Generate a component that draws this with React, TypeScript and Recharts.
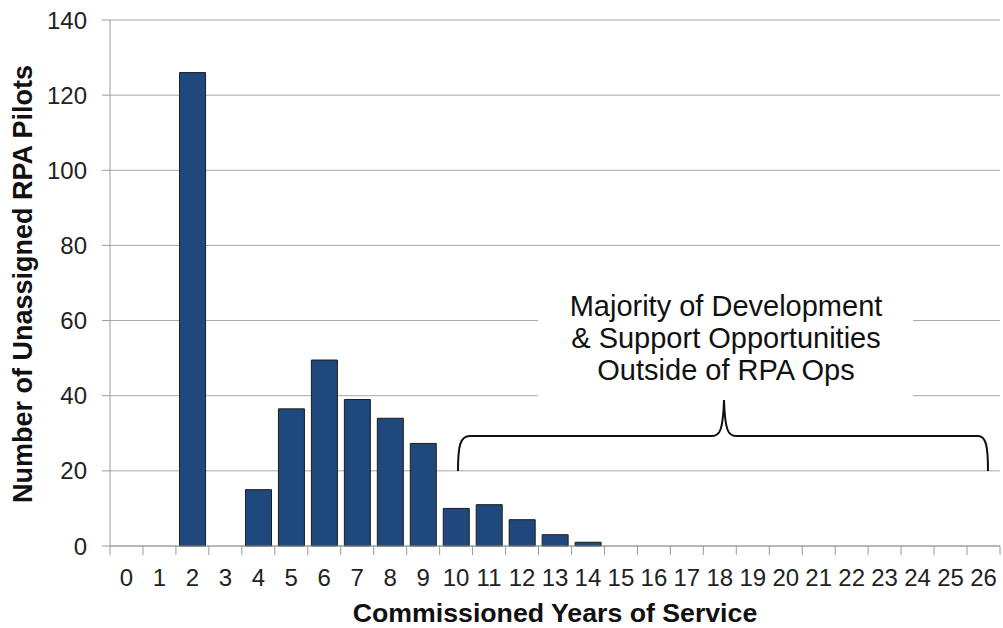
import React from 'react';
import { BarChart, Bar, XAxis, YAxis, CartesianGrid } from 'recharts';

const categories: string[] = ['0','1','2','3','4','5','6','7','8','9','10','11','12','13','14','15','16','17','18','19','20','21','22','23','24','25','26'];
const pilots: number[] = [0, 0, 126, 0, 15, 36.5, 49.5, 39, 34, 27.3, 10, 11, 7, 3, 1, 0, 0, 0, 0, 0, 0, 0, 0, 0, 0, 0, 0];
const yTicks: number[] = [0, 20, 40, 60, 80, 100, 120, 140];
const annotationLines: string[] = ['Majority of Development', '& Support Opportunities', 'Outside of RPA Ops'];
const xTitle = 'Commissioned Years of Service';
const yTitle = 'Number of Unassigned RPA Pilots';

const data = categories.map((c, i) => ({ year: c, pilots: pilots[i] }));

const W = 1003;
const H = 628;
const LEFT = 110;
const RIGHT_M = 3;
const TOP = 20;
const BOTTOM_M = 82;
const PLOT_W = W - LEFT - RIGHT_M;
const PLOT_BOTTOM = H - BOTTOM_M;
const FONT = '"Liberation Sans", Arial, sans-serif';
const AXIS_COLOR = '#9a9a9a';

const XTick = (props: any) => {
  const { x, payload, index } = props;
  const step = PLOT_W / categories.length;
  const isLast = index === categories.length - 1;
  return (
    <g>
      <line x1={x - step / 2} x2={x - step / 2} y1={PLOT_BOTTOM} y2={PLOT_BOTTOM + 9} stroke={AXIS_COLOR} strokeWidth={1} />
      {isLast && (
        <line x1={x + step / 2} x2={x + step / 2} y1={PLOT_BOTTOM} y2={PLOT_BOTTOM + 9} stroke={AXIS_COLOR} strokeWidth={1} />
      )}
      <text x={x} y={PLOT_BOTTOM + 40} textAnchor="middle" fontSize={24} fontFamily={FONT} fill="#222">
        {payload.value}
      </text>
    </g>
  );
};

export default function App() {
  return (
    <div style={{ position: 'absolute', left: 0, top: 0, width: W, height: H, background: '#fff' }}>
      <BarChart
        width={W}
        height={H}
        data={data}
        margin={{ top: TOP, right: RIGHT_M, bottom: 0, left: 0 }}
        barCategoryGap="11%"
      >
        <CartesianGrid vertical={false} stroke="#a6a6a6" strokeWidth={1} />
        <XAxis
          dataKey="year"
          height={BOTTOM_M}
          interval={0}
          tickLine={false}
          tickSize={8}
          tickMargin={0}
          stroke={AXIS_COLOR}
          tick={<XTick />}
        />
        <YAxis
          width={LEFT}
          domain={[0, 140]}
          ticks={yTicks}
          interval={0}
          tickSize={8}
          tickMargin={15}
          stroke={AXIS_COLOR}
          tick={{ fontSize: 24, fontFamily: FONT, fill: '#222' }}
        />
        <Bar dataKey="pilots" fill="#1F497D" stroke="#1c1c1c" strokeWidth={1} isAnimationActive={false} />
      </BarChart>
      <svg
        width={W}
        height={H}
        style={{ position: 'absolute', left: 0, top: 0, pointerEvents: 'none' }}
      >
        <rect x={538} y={288} width={375} height={110} fill="#fff" />
        {annotationLines.map((t, i) => (
          <text key={i} x={726} y={316 + i * 32} textAnchor="middle" fontSize={29} fontFamily={FONT} fill="#111">
            {t}
          </text>
        ))}
        <path
          d="M458,471 C458,446 460,436 470,436 L712,436 C720,436 723,430 724,400 C725,430 728,436 736,436 L978,436 C986,436 988,446 988,471"
          fill="none"
          stroke="#111"
          strokeWidth={2}
        />
        <text x={555} y={622} textAnchor="middle" fontSize={26.7} fontWeight="bold" fontFamily={FONT} fill="#111">
          {xTitle}
        </text>
        <text
          x={0}
          y={0}
          transform={`translate(32, ${(TOP + PLOT_BOTTOM) / 2 + 1}) rotate(-90)`}
          textAnchor="middle"
          fontSize={27}
          fontWeight="bold"
          fontFamily={FONT}
          fill="#111"
        >
          {yTitle}
        </text>
      </svg>
    </div>
  );
}
